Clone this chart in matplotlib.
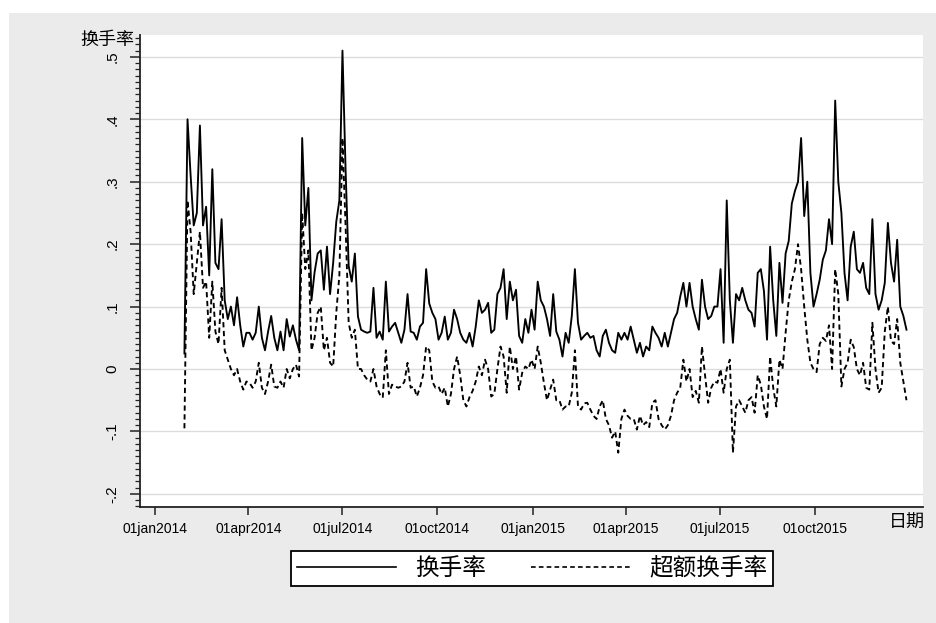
import matplotlib
matplotlib.use('Agg')
import matplotlib.pyplot as plt
from matplotlib.patches import Rectangle
from matplotlib.ticker import MultipleLocator
import pandas as pd

plt.rcParams['font.family'] = ['Liberation Sans', 'Noto Sans CJK SC']

# sampled every 3 days starting from start_day
start_day = '2014-01-29'
step = '3D'

turnover = [
    0.025, 0.40, 0.31, 0.23, 0.25, 0.39, 0.23, 0.26, 0.15, 0.32,
    0.17, 0.16, 0.24, 0.11, 0.08, 0.10, 0.07, 0.115, 0.07, 0.036,
    0.058, 0.058, 0.047, 0.058, 0.10, 0.05, 0.03, 0.06, 0.085, 0.05,
    0.03, 0.06, 0.03, 0.08, 0.052, 0.07, 0.047, 0.03, 0.37, 0.23,
    0.29, 0.11, 0.155, 0.185, 0.19, 0.127, 0.196, 0.12, 0.17, 0.236,
    0.27, 0.51, 0.32, 0.165, 0.14, 0.185, 0.084, 0.063, 0.06, 0.058,
    0.06, 0.13, 0.05, 0.06, 0.047, 0.14, 0.06, 0.068, 0.074, 0.058,
    0.042, 0.063, 0.12, 0.06, 0.058, 0.047, 0.068, 0.074, 0.16, 0.105,
    0.09, 0.08, 0.047, 0.058, 0.084, 0.047, 0.058, 0.095, 0.08, 0.058,
    0.047, 0.042, 0.058, 0.036, 0.068, 0.11, 0.09, 0.095, 0.106, 0.058,
    0.063, 0.12, 0.13, 0.16, 0.08, 0.14, 0.11, 0.127, 0.053, 0.042,
    0.08, 0.058, 0.095, 0.063, 0.14, 0.11, 0.10, 0.08, 0.053, 0.12,
    0.06, 0.047, 0.02, 0.058, 0.042, 0.085, 0.16, 0.074, 0.047, 0.053,
    0.058, 0.05, 0.053, 0.03, 0.02, 0.053, 0.063, 0.042, 0.03, 0.026,
    0.058, 0.047, 0.058, 0.047, 0.068, 0.047, 0.026, 0.042, 0.02, 0.036,
    0.03, 0.068, 0.058, 0.05, 0.036, 0.058, 0.036, 0.058, 0.08, 0.09,
    0.116, 0.138, 0.10, 0.138, 0.10, 0.08, 0.063, 0.143, 0.10, 0.08,
    0.085, 0.10, 0.10, 0.16, 0.042, 0.27, 0.11, 0.042, 0.12, 0.11,
    0.13, 0.11, 0.095, 0.09, 0.068, 0.154, 0.16, 0.125, 0.047, 0.196,
    0.11, 0.053, 0.17, 0.106, 0.185, 0.205, 0.265, 0.285, 0.30, 0.37,
    0.245, 0.30, 0.154, 0.10, 0.12, 0.143, 0.175, 0.19, 0.24, 0.20,
    0.43, 0.30, 0.25, 0.154, 0.11, 0.196, 0.22, 0.16, 0.154, 0.17,
    0.13, 0.12, 0.24, 0.12, 0.095, 0.11, 0.138, 0.234, 0.17, 0.14,
    0.207, 0.10, 0.085, 0.063,
]

excess = [
    -0.095, 0.27, 0.22, 0.12, 0.17, 0.22, 0.13, 0.14, 0.05, 0.14,
    0.06, 0.04, 0.13, 0.03, 0.015, 0.0, -0.01, 0.0, -0.02, -0.033,
    -0.02, -0.022, -0.03, -0.02, 0.01, -0.03, -0.04, -0.02, 0.007, -0.028,
    -0.03, -0.02, -0.03, 0.0, -0.015, 0.0, 0.007, -0.012, 0.25, 0.16,
    0.19, 0.03, 0.05, 0.09, 0.10, 0.03, 0.05, 0.01, 0.004, 0.09,
    0.15, 0.37, 0.23, 0.074, 0.05, 0.063, 0.0, 0.0, -0.01, -0.017,
    -0.02, 0.0, -0.028, -0.04, -0.046, 0.03, -0.04, -0.025, -0.028, -0.03,
    -0.028, -0.02, 0.01, -0.03, -0.028, -0.044, -0.03, -0.01, 0.036, 0.03,
    -0.02, -0.03, -0.028, -0.04, -0.03, -0.06, -0.04, 0.0, 0.02, -0.01,
    -0.05, -0.06, -0.045, -0.035, -0.02, 0.004, -0.01, 0.015, 0.0, -0.044,
    -0.04, 0.0, 0.036, 0.02, -0.038, 0.036, 0.0, 0.02, -0.033, -0.006,
    0.004, 0.0, 0.015, 0.0, 0.036, 0.01, -0.022, -0.05, -0.033, -0.017,
    -0.05, -0.05, -0.065, -0.06, -0.06, -0.038, 0.03, -0.06, -0.065, -0.055,
    -0.054, -0.065, -0.075, -0.08, -0.06, -0.05, -0.08, -0.09, -0.11, -0.10,
    -0.134, -0.08, -0.065, -0.075, -0.08, -0.08, -0.097, -0.075, -0.09, -0.085,
    -0.093, -0.054, -0.05, -0.08, -0.09, -0.097, -0.09, -0.075, -0.05, -0.038,
    -0.03, 0.015, -0.02, 0.0, -0.045, -0.035, -0.054, 0.036, -0.01, -0.054,
    -0.03, -0.02, -0.022, 0.0, -0.038, 0.0, 0.015, -0.134, -0.06, -0.05,
    -0.06, -0.07, -0.05, -0.045, -0.07, -0.01, -0.025, -0.06, -0.08, 0.02,
    -0.03, -0.06, 0.015, 0.0, 0.058, 0.11, 0.14, 0.16, 0.20, 0.16,
    0.10, 0.047, 0.01, 0.0, -0.005, 0.04, 0.05, 0.045, 0.07, 0.0,
    0.16, 0.12, -0.028, 0.0, 0.01, 0.047, 0.035, 0.0, -0.01, 0.01,
    -0.03, -0.033, 0.074, 0.0, -0.038, -0.03, 0.06, 0.10, 0.045, 0.04,
    0.08, 0.01, -0.02, -0.05,
]

tick_dates = ['2014-01-01', '2014-04-01', '2014-07-01', '2014-10-01',
              '2015-01-01', '2015-04-01', '2015-07-01', '2015-10-01']
tick_labels = ['01jan2014', '01apr2014', '01jul2014', '01oct2014',
               '01jan2015', '01apr2015', '01jul2015', '01oct2015']
y_ticks = [-0.2, -0.1, 0.0, 0.1, 0.2, 0.3, 0.4, 0.5]
y_labels = ['-.2', '-.1', '0', '.1', '.2', '.3', '.4', '.5']

dates = pd.date_range(start_day, periods=len(turnover), freq=step)

W, H = 936, 623
fig = plt.figure(figsize=(W / 100, H / 100), dpi=100)
fig.patch.set_facecolor('white')
fig.patches.append(Rectangle((9 / W, 0), 1, 1 - 13 / H, transform=fig.transFigure,
                             facecolor='#ebebeb', edgecolor='none', zorder=-5))

ax = fig.add_axes([140 / W, 1 - 507 / H, (923 - 140) / W, (507 - 35) / H])
ax.set_facecolor('white')

l1, = ax.plot(dates, turnover, color='black', lw=1.35, label='换手率')
l2, = ax.plot(dates, excess, color='black', lw=1.35, linestyle=(0, (2.8, 1.9)),
              label='超额换手率')

ax.set_xlim(pd.Timestamp('2013-12-17'), pd.Timestamp('2016-01-14'))
ax.set_ylim(-0.221, 0.535)

for s in ['top', 'right']:
    ax.spines[s].set_visible(False)
for s in ['left', 'bottom']:
    ax.spines[s].set_color('#222222')
    ax.spines[s].set_linewidth(1.3)

ax.set_xticks(pd.to_datetime(tick_dates))
ax.set_xticklabels(tick_labels, fontsize=10)
ax.tick_params(axis='x', length=6, width=1.1, pad=5, color='#222222')

ax.set_yticks(y_ticks)
ax.set_yticklabels(y_labels, rotation=90, va='center', fontsize=11)
ax.yaxis.set_minor_locator(MultipleLocator(0.01))
ax.tick_params(axis='y', which='major', length=7, width=1.1, pad=8, color='#222222')
ax.tick_params(axis='y', which='minor', length=3.5, width=0.9, color='#222222')

ax.grid(axis='y', which='major', color='#dcdcdc', lw=1)
ax.set_axisbelow(True)

cjk = ['Noto Sans CJK SC', 'DejaVu Sans']
fig.text(134 / W, 1 - 40 / H, '换手率', ha='right', va='center', fontsize=13, family=cjk)
fig.text(925 / W, 1 - 523 / H, '日期', ha='right', va='center', fontsize=13, family=cjk)

leg = fig.legend([l1, l2], ['换手率', '超额换手率'], loc='center',
                 bbox_to_anchor=(532 / W, 1 - 568.5 / H), ncol=2,
                 frameon=True, fancybox=False, edgecolor='black', facecolor='white',
                 framealpha=1, prop={'family': cjk, 'size': 17},
                 handlelength=4.2, handletextpad=0.8, columnspacing=1.9,
                 borderpad=0.25, borderaxespad=0)
leg.get_frame().set_linewidth(1.3)
for h in leg.legend_handles:
    h.set_linewidth(1.2)

fig.savefig('out.png', dpi=100, facecolor=fig.get_facecolor())
